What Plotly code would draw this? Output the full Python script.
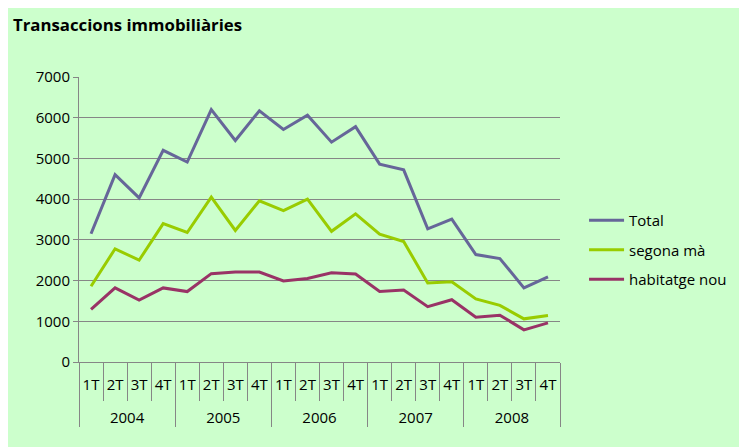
import plotly.graph_objects as go

# data
years = ['2004', '2005', '2006', '2007', '2008']
quarters = ['1T', '2T', '3T', '4T']

total = [3150, 4600, 4030, 5200, 4910, 6200, 5440, 6170, 5710, 6060,
         5400, 5780, 4860, 4720, 3270, 3510, 2640, 2540, 1820, 2090]
segona_ma = [1860, 2780, 2500, 3400, 3180, 4050, 3230, 3960, 3720, 4000,
             3210, 3640, 3140, 2960, 1940, 1970, 1550, 1390, 1060, 1140]
habitatge_nou = [1290, 1820, 1520, 1820, 1730, 2170, 2210, 2210, 1990, 2050,
                 2190, 2160, 1730, 1770, 1360, 1530, 1100, 1150, 790, 960]

# two-row category axis; the <br> pads the year row down like the Excel one
x_years = ['<br>' + y for y in years for q in quarters]
x_quarters = [q for y in years for q in quarters]

font_name = 'Open Sans'
grid_col = '#868686'
bg = '#CCFFCC'

series = [
    ('Total', total, '#666699'),
    ('segona mà', segona_ma, '#99CC00'),
    ('habitatge nou', habitatge_nou, '#993366'),
]

fig = go.Figure()
for name, vals, col in series:
    fig.add_trace(go.Scatter(
        x=[x_years, x_quarters], y=vals, name=name, mode='lines',
        line=dict(color=col, width=3), legendgroup=name,
    ))

fig.update_layout(
    width=747, height=447,
    margin=dict(l=71, r=195, t=69, b=93, autoexpand=False),
    paper_bgcolor=bg,
    plot_bgcolor=bg,
    font=dict(family=font_name, size=15, color='black'),
    title=dict(text='<b>Transaccions immobiliàries</b>', font=dict(size=16.8),
               x=5 / 747, xref='container', xanchor='left',
               y=1 - 17 / 447, yref='container', yanchor='middle'),
    legend=dict(x=1.050, y=0.554, xanchor='left', yanchor='top',
                bgcolor='rgba(0,0,0,0)', tracegroupgap=7, itemwidth=35,
                font=dict(size=15)),
    showlegend=True,
)

fig.update_yaxes(range=[0, 7000], dtick=1000, showgrid=True, gridcolor=grid_col,
                 gridwidth=1, showline=True, linecolor=grid_col, ticks='outside',
                 ticklen=5, tickcolor=grid_col, zeroline=False, automargin=False)
fig.update_xaxes(type='multicategory', range=[-0.5, 19.5], showgrid=False,
                 showline=True, linecolor=grid_col, ticks='outside',
                 tickson='boundaries', ticklen=38, tickcolor=grid_col,
                 tickangle=0, ticklabelstandoff=9, showdividers=True,
                 dividercolor=grid_col, dividerwidth=1, automargin=False)

fig.write_html('out.html')
